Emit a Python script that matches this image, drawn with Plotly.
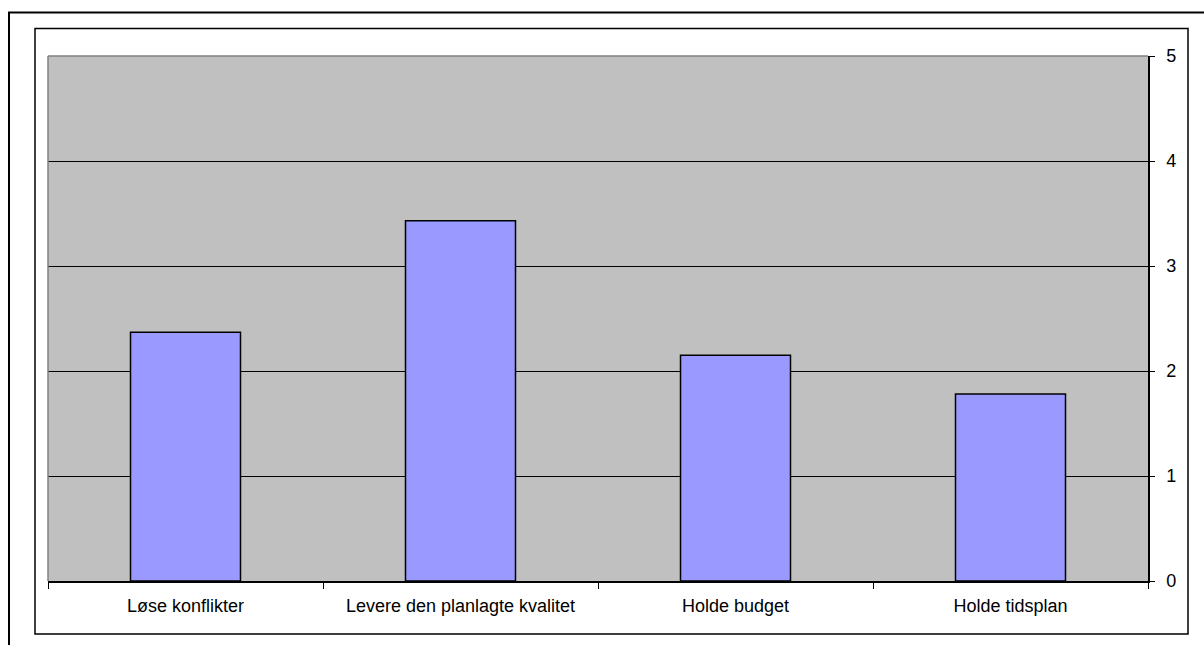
import plotly.graph_objects as go

categories = ["Løse konflikter", "Levere den planlagte kvalitet", "Holde budget", "Holde tidsplan"]
values = [2.37, 3.43, 2.15, 1.78]
y_ticks = [0, 1, 2, 3, 4, 5]

W, H = 1204, 645
L, R, T, B = 48, 1148, 55.5, 581  # plot area in px


def px(x):
    return (x - L) / (R - L)


def py(y):
    return (B - y) / (B - T)


FONT = "Liberation Sans, Arial, sans-serif"

fig = go.Figure(
    go.Bar(
        x=categories,
        y=values,
        width=0.4,
        marker=dict(color="#9999FF", line=dict(color="#000000", width=1.5)),
        hoverinfo="x+y",
    )
)

shapes = [
    # plot area top & left border (gray)
    dict(type="line", xref="paper", yref="paper", x0=0, x1=1, y0=1, y1=1,
         line=dict(color="#808080", width=1.5), layer="above"),
    dict(type="line", xref="paper", yref="paper", x0=0, x1=0, y0=0, y1=1,
         line=dict(color="#808080", width=1.5), layer="above"),
    # inner chart frame
    dict(type="rect", xref="paper", yref="paper",
         x0=px(35), x1=px(1188), y0=py(634), y1=py(28),
         line=dict(color="#000000", width=1.5), layer="below"),
    # outer frame
    dict(type="rect", xref="paper", yref="paper",
         x0=px(9), x1=px(1215), y0=py(660), y1=py(12),
         line=dict(color="#000000", width=2), layer="below"),
]

fig.update_layout(
    width=W,
    height=H,
    margin=dict(l=L, r=W - R, t=T, b=H - B, pad=0),
    paper_bgcolor="#FFFFFF",
    plot_bgcolor="#C0C0C0",
    showlegend=False,
    bargap=0.6,
    font=dict(family=FONT, size=18, color="#000000"),
    shapes=shapes,
    xaxis=dict(
        type="category",
        showgrid=False,
        showline=True,
        linecolor="#000000",
        linewidth=1.5,
        ticks="outside",
        tickson="boundaries",
        ticklen=6,
        tickwidth=1,
        tickcolor="#000000",
        ticklabelstandoff=8,
        tickfont=dict(family=FONT, size=18, color="#000000"),
    ),
    yaxis=dict(
        side="right",
        range=[0, 5],
        tickvals=y_ticks,
        ticktext=[str(v) for v in y_ticks],
        showgrid=True,
        gridcolor="#000000",
        gridwidth=1,
        zeroline=False,
        showline=True,
        linecolor="#000000",
        linewidth=1.5,
        ticks="outside",
        ticklen=5,
        tickwidth=1,
        tickcolor="#000000",
        ticklabelstandoff=8,
        tickfont=dict(family=FONT, size=18, color="#000000"),
    ),
)

fig.write_html("out.html")
